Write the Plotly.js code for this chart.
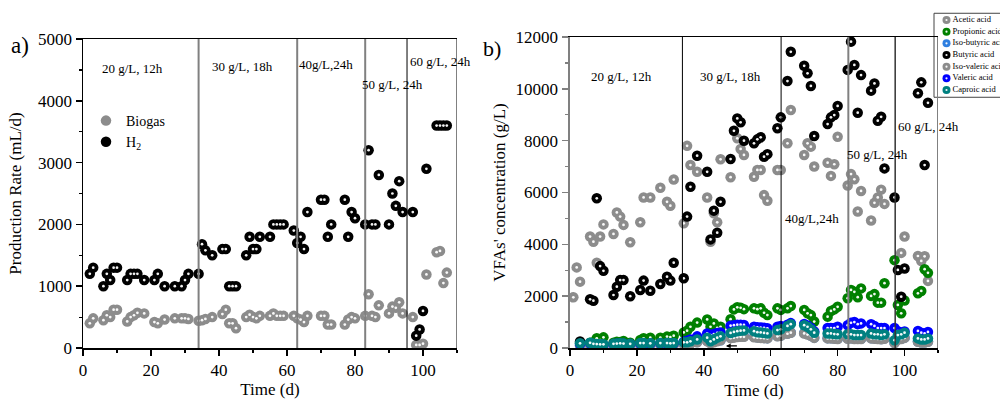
<!DOCTYPE html>
<html><head><meta charset="utf-8">
<script src="https://cdn.plot.ly/plotly-3.0.1.min.js"></script>
<style>html,body{margin:0;padding:0;background:#fff}#chart{width:1000px;height:400px}</style>
</head><body><div id="chart"></div>
<script>
// ---------- Panel a) production rate ----------
const tBiogas = [2,3,6,7,8,9,10,13,14,15,16,18,21,22,24,27,29,30,31,34,35,36,38,41,42,43,44,45,48,49,50,51,52,55,56,57,58,59,62,63,64,65,66,70,71,72,73,77,78,79,80,83,84,85,86,87,90,91,92,93,94,97,98,99,100,101,104,105,106,107];
const biogas = [400,480,450,530,500,620,620,430,500,530,570,560,420,400,460,480,480,480,470,440,450,470,500,550,620,400,400,320,500,540,500,480,520,520,560,520,520,520,520,480,460,420,520,520,520,380,380,380,460,500,480,520,870,520,500,690,560,670,650,740,560,500,50,50,70,1190,1550,1570,1050,1220];
const tH2 = [2,3,6,7,8,9,10,13,14,15,16,18,21,22,24,27,29,30,31,34,35,36,38,41,42,43,44,45,48,49,50,51,52,55,56,57,58,59,62,63,64,65,66,70,71,72,73,77,78,79,80,83,84,85,86,87,90,91,92,93,94,97,98,99,100,101,104,105,106,107];
const h2 = [1200,1300,1000,1200,1100,1300,1300,1100,1200,1200,1200,1100,1100,1200,1000,1000,1000,1100,1200,1200,1680,1580,1500,1600,1600,1000,1000,1000,1500,1800,1600,1600,1800,1800,2000,2000,2000,2000,1900,1700,1800,1600,2200,2400,2400,1800,2000,2400,1800,2200,2100,2000,3200,2000,2000,2800,2000,2500,2300,2700,2200,2200,200,300,600,2900,3600,3600,3600,3600];
const phaseA = [34, 63, 83, 95.3];
const phaseLabels = ['20 g/L, 12h', '30 g/L, 18h', '40g/L,24h', '50 g/L, 24h', '60 g/L, 24h'];

// ---------- Panel b) VFAs ----------
const tAcetic = [1,2,3,6,7,8,9,10,13,14,15,16,18,21,22,24,27,29,30,31,34,35,36,38,41,42,43,44,45,48,50,51,52,55,56,57,58,59,62,63,65,66,70,71,72,73,77,78,79,80,83,84,85,86,87,90,91,92,93,94,99,100,104,105,106,107];
const acetic = [1955,3110,2560,4300,4100,3290,4300,4770,4400,5230,5070,4750,4080,4850,5810,5810,6180,5640,5490,6500,4810,7800,7060,6800,5810,4100,5200,4850,7280,6590,8090,7680,7450,6610,6870,6870,5900,5680,6870,6870,7900,9180,7450,7900,7770,7000,7150,6640,7090,8150,6270,6710,6510,5270,6060,4920,5600,5810,6110,5560,3670,4300,3550,3360,3540,2590];
const tVFA = [3,6,7,8,9,10,13,14,15,16,18,21,22,24,27,29,30,31,34,35,36,38,41,42,43,44,45,48,49,50,51,52,55,56,57,58,59,62,63,65,66,70,71,72,73,77,78,79,80,83,84,85,86,87,90,91,92,93,94,97,98,99,100,104,105,106,107];
const propionic = [200,200,220,375,300,410,200,245,230,270,200,310,375,400,400,440,420,475,600,670,820,980,1100,820,950,780,820,1110,1490,1570,1550,1500,1530,1500,1530,1360,1270,1530,1470,1530,1620,1470,1340,1270,1020,1210,1430,1490,1590,1920,2240,2170,1960,2300,2010,2080,1750,1750,2500,3390,1660,1340,1830,2110,2200,3040,2900];
const isobutyric = [120,130,110,100,100,100,110,120,120,120,110,130,130,120,130,130,120,130,150,150,180,230,280,200,240,280,300,400,420,440,450,450,430,410,400,390,380,460,480,560,600,580,540,480,400,380,380,370,360,370,380,360,360,360,380,370,360,350,370,200,340,360,400,250,220,220,250];
const butyric = [250,1880,1825,5775,3160,2980,2045,2365,2620,2620,2000,2240,2600,2210,2470,2750,2600,3290,2690,5070,6220,7420,6800,4190,5300,4450,5640,7290,8380,8860,8710,8000,7900,8050,8130,7380,7480,8480,8900,10300,11430,10890,10600,10110,8180,8640,8900,8990,9340,10730,11820,10920,9080,10530,9930,10210,8770,8920,6930,5810,3010,1980,3070,9830,10250,7060,9460];
const isovaleric = [100,110,100,90,90,90,100,110,110,110,100,110,120,110,120,120,110,120,140,140,170,220,260,180,220,260,300,380,400,420,430,430,410,400,390,380,370,450,470,550,590,560,520,470,390,370,370,360,350,360,370,350,350,350,370,360,350,340,360,190,330,350,390,240,210,210,240];
const valeric = [150,180,150,140,130,130,150,160,160,160,150,170,180,170,180,180,170,180,240,280,330,450,560,500,540,580,600,860,880,900,900,890,820,800,790,780,760,820,850,900,960,930,870,770,640,770,770,770,820,880,970,1000,920,950,920,850,770,770,770,770,650,600,640,660,590,560,620];
const caproic = [180,200,160,150,140,140,160,170,180,170,160,190,190,180,190,190,180,190,220,220,260,330,400,260,330,400,450,580,620,650,670,680,650,610,600,580,560,690,720,850,920,880,820,720,590,560,560,540,530,530,530,500,500,500,560,530,530,500,530,300,500,530,590,370,330,330,370];
const phaseB = [33.6, 63.1, 83.2, 97.2];
const acidNames = ['Acetic acid','Propionic acid','Iso-butyric acid','Butyric acid','Iso-valeric acid','Valeric acid','Caproic acid'];

// ---------- styles ----------
const FONT = 'Liberation Serif, Times New Roman, serif';
const acidColors = ['#8c8c8c','#008000','#2f7fe0','#000000','#8c8c8c','#0000ff','#008080'];

function sphere(name, x, y, color, xa, ya, size, showlegend) {
  return [
    {type:'scatter', mode:'markers', name:name, x:x, y:y, xaxis:xa, yaxis:ya, showlegend:showlegend,
     marker:{color:color, size:size, line:{width:0}}},
    {type:'scatter', mode:'markers', x:x, y:y, xaxis:xa, yaxis:ya, showlegend:false, hoverinfo:'skip',
     marker:{color:'rgba(255,255,255,0.95)', size:size*0.26, line:{width:0}}}
  ];
}

let traces = [];
traces = traces.concat(sphere('Biogas', tBiogas, biogas, '#8c8c8c', 'x', 'y', 10.5, true));
traces = traces.concat(sphere('H<sub>2</sub>', tH2, h2, '#000000', 'x', 'y', 10.5, true));

const vfaX = [tAcetic, tVFA, tVFA, tVFA, tVFA, tVFA, tVFA];
const vfaY = [acetic, propionic, isobutyric, butyric, isovaleric, valeric, caproic];
acidNames.forEach((n, i) => {
  traces = traces.concat(sphere(n, vfaX[i], vfaY[i], acidColors[i], 'x2', 'y2', 10.5, false));
});

// custom legend for panel b
const legIdx = acidNames.map((_, i) => i);
traces.push({type:'scatter', mode:'markers+text', x:acidNames.map(() => 12.5), y:legIdx, xaxis:'x3', yaxis:'y3',
  text:acidNames, textposition:'middle right', textfont:{family:FONT, size:8.5, color:'#000'},
  marker:{color:acidColors, size:8, line:{width:0}},
  showlegend:false, hoverinfo:'skip', cliponaxis:false});
traces.push({type:'scatter', mode:'markers', x:acidNames.map(() => 12.5), y:legIdx, xaxis:'x3', yaxis:'y3',
  marker:{color:'rgba(255,255,255,0.95)', size:2.2}, showlegend:false, hoverinfo:'skip', cliponaxis:false});

const baseX = {showgrid:false, zeroline:false, showline:true, linecolor:'#000', linewidth:1.5, mirror:true,
  ticks:'outside', ticklen:6, tickwidth:1.5, tickcolor:'#000', dtick:20, tick0:0, range:[0,110],
  minor:{dtick:10, ticks:'outside', ticklen:3, tickwidth:1.2, tickcolor:'#000'},
  tickfont:{family:FONT, size:17, color:'#000'}, automargin:false};

const shapes = [];
const phaseAColors = ['#808080','#808080','#808080','#000'];
const phaseAWidths = [2,2,2,1];
phaseA.concat([110]).forEach((p, i) => {
  shapes.push({type:'line', xref:'x', yref:'y domain', x0:p, x1:p, y0:0, y1:1,
    line:{color: i < 4 ? phaseAColors[i] : '#808080', width: i < 4 ? phaseAWidths[i] : 2}});
});
const phaseBColors = ['#000','#000','#808080','#333'];
const phaseBWidths = [1,1,2,1.5];
phaseB.concat([110]).forEach((p, i) => {
  shapes.push({type:'line', xref:'x2', yref:'y2 domain', x0:p, x1:p, y0:0, y1:1,
    line:{color: i < 4 ? phaseBColors[i] : '#808080', width: i < 4 ? phaseBWidths[i] : 2}});
});
shapes.push({type:'rect', xref:'paper', yref:'paper', x0:0.934, x1:1.01, y0:0.7568, y1:0.9668,
  line:{color:'#444', width:1}, fillcolor:'rgba(255,255,255,0.9)', layer:'below'});

const annFont = {family:FONT, size:13, color:'#000'};
const annA = [[14.7,4515,'center'],[46.8,4560,'center'],[71.5,4580,'center'],[91,4270,'center'],[95.6,4640,'left']];
const annB = [[15.5,10490,'center'],[48,10490,'center'],[72.2,5015,'center'],[91.8,7480,'center'],[107.3,8530,'center']];
const annotations = [];
phaseLabels.forEach((txt, i) => {
  annotations.push({xref:'x', yref:'y', x:annA[i][0], y:annA[i][1], text:txt, showarrow:false, xanchor:annA[i][2], font:annFont});
  annotations.push({xref:'x2', yref:'y2', x:annB[i][0], y:annB[i][1], text:txt, showarrow:false, xanchor:annB[i][2], font:annFont});
});
annotations.push({xref:'paper', yref:'paper', x:0.02, y:0.8875, xanchor:'center', yanchor:'middle', text:'a)', showarrow:false, font:{family:FONT, size:23, color:'#000'}});
annotations.push({xref:'paper', yref:'paper', x:0.492, y:0.88, xanchor:'center', yanchor:'middle', text:'b)', showarrow:false, font:{family:FONT, size:22, color:'#000'}});
annotations.push({xref:'x2', yref:'y2', x:46.6, y:80, ax:13, ay:0, text:' ', showarrow:true, arrowhead:2, arrowsize:0.8, arrowwidth:1.2, arrowcolor:'#000', font:{size:2}});

const layout = {
  width:1000, height:400, margin:{l:0, r:0, t:0, b:0},
  paper_bgcolor:'#fff', plot_bgcolor:'rgba(0,0,0,0)',
  font:{family:FONT, color:'#000', size:17},
  showlegend:true,
  legend:{x:0.086, y:0.7375, xanchor:'left', yanchor:'top', bgcolor:'rgba(0,0,0,0)', font:{family:FONT, size:14, color:'#000'}, tracegroupgap:0},
  xaxis:Object.assign({}, baseX, {domain:[0.083,0.457], anchor:'y', title:{text:'Time (d)', standoff:3, font:{family:FONT, size:17}}}),
  yaxis:{domain:[0.13,0.9025], anchor:'x', range:[0,5000], showgrid:false, zeroline:false, showline:true, linecolor:'#000', linewidth:1.5,
    ticks:'outside', ticklen:6, tickwidth:1.5, tickcolor:'#000', dtick:1000, tickformat:'d', minor:{dtick:500, ticks:'outside', ticklen:3, tickwidth:1.2, tickcolor:'#000'},
    tickfont:{family:FONT, size:17, color:'#000'}, automargin:false,
    title:{text:'Production Rate (mL/d)', standoff:12, font:{family:FONT, size:17}}},
  xaxis2:Object.assign({}, baseX, {domain:[0.570,0.938], anchor:'y2', title:{text:'Time (d)', standoff:9, font:{family:FONT, size:17}}}),
  yaxis2:{domain:[0.13,0.9075], anchor:'x2', range:[0,12000], showgrid:false, zeroline:false, showline:true, linecolor:'#808080', linewidth:2.5,
    ticks:'outside', ticklen:6, tickwidth:1.5, tickcolor:'#808080', dtick:2000, tickformat:'d', minor:{dtick:1000, ticks:'outside', ticklen:3, tickwidth:1.2, tickcolor:'#808080'},
    tickfont:{family:FONT, size:17, color:'#000'}, automargin:false,
    title:{text:"VFAs' concentration (g/L)", standoff:6, font:{family:FONT, size:17}}},
  xaxis3:{domain:[0.934,1.0], anchor:'y3', range:[0,66], visible:false, fixedrange:true},
  yaxis3:{domain:[0.7568,0.9668], anchor:'x3', range:[6.626,-0.574], visible:false, fixedrange:true},
  shapes:shapes, annotations:annotations
};

Plotly.newPlot('chart', traces, layout, {staticPlot:true, displayModeBar:false});
</script></body></html>
